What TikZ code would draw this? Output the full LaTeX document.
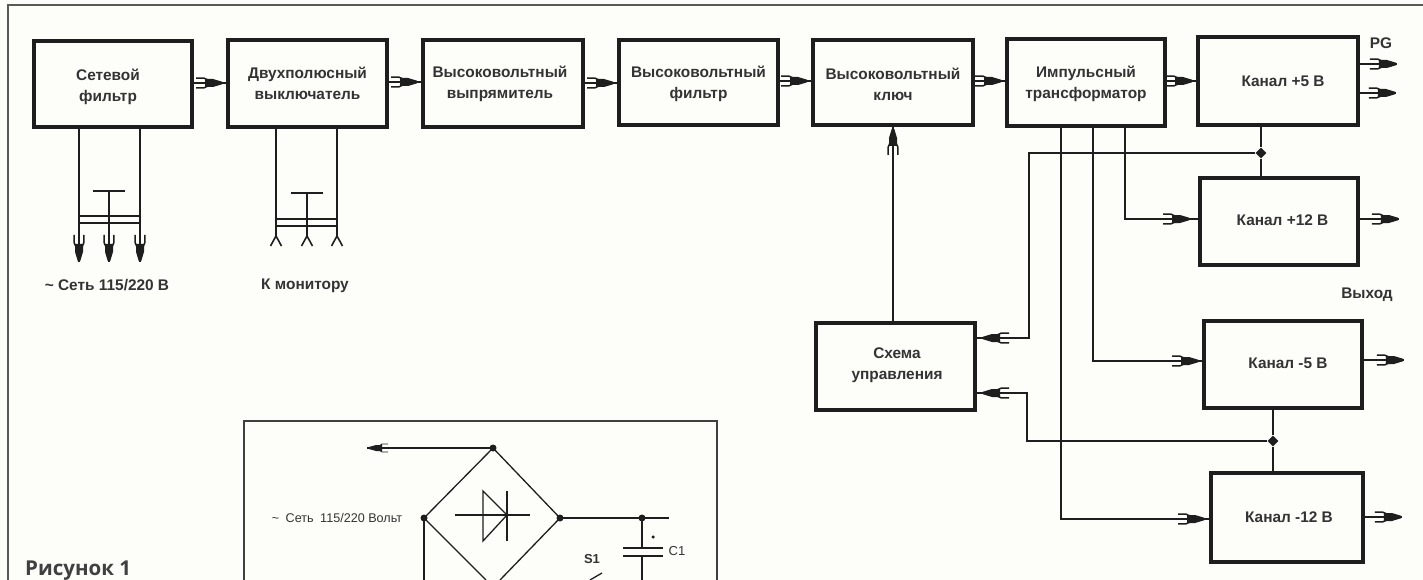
\documentclass[tikz,border=0pt]{standalone}
\usepackage{fontspec}
\setmainfont{Liberation Sans}
\newfontfamily\captionfnt{Open Sans}
\usetikzlibrary{shapes.geometric,decorations.markings}
\definecolor{ink}{HTML}{1E1E1E}
\definecolor{labelink}{HTML}{333333}
\definecolor{paper}{HTML}{FDFDFA}
\newcommand{\plugshape}{%
  \fill[ink] (-18,-4) -- (-10,-4) -- (-1,-1.3) -- (0,0) -- (-1,1.3) -- (-10,4) -- (-18,4) -- cycle;
  \draw[ink,line width=1.5pt] (-27,4.8) -- (-19,4.8) -- (-15,3);
  \draw[ink,line width=1.5pt] (-27,-4.8) -- (-19,-4.8) -- (-15,-3);
}
\tikzset{
  blockbox/.style={draw=ink,line width=3.2pt,fill=paper,inner sep=0pt,outer sep=0pt,anchor=north west},
  blocktext/.style={align=center,text=labelink,inner sep=0pt,font=\fontsize{15.4}{21}\selectfont\bfseries},
  wire/.style={draw=ink,line width=1.9pt},
  thinwire/.style={draw=ink,line width=1.3pt},
  tbar/.style={draw=ink,line width=2.5pt},
  plugged/.style={wire,postaction={decorate},decoration={markings,mark=at position #1 with {\plugshape}}},
  lbl/.style={text=labelink,font=\fontsize{15.4}{18}\selectfont\bfseries,inner sep=0pt},
  junction/.style={diamond,fill=ink,inner sep=0pt,minimum size=11pt},
  dotmark/.style={circle,fill=ink,inner sep=0pt,minimum size=7pt},
  frameline/.style={draw=#1,line width=2pt},
}
\begin{document}
\begin{tikzpicture}[x=1pt,y=-1pt]
\useasboundingbox (0,0) rectangle (1423,580);
\fill[paper] (0,0) rectangle (1423,580);
% outer frame
\coordinate (fa) at (8,580); \coordinate (fb) at (8,5); \coordinate (fc) at (1423,5);
\draw[frameline=black!65] (fa) -- (fb) -- (fc);
% blocks
\node[blockbox,minimum width=158pt,minimum height=86pt,label={[blocktext,xshift=-5pt,yshift=-3pt]center:Сетевой\\фильтр}] (b1) at (34,41) {};
\node[blockbox,minimum width=159pt,minimum height=87pt,label={[blocktext]center:Двухполюсный\\выключатель}] (b2) at (228,40) {};
\node[blockbox,minimum width=160pt,minimum height=87pt,label={[blocktext,xshift=-3pt]center:Высоковольтный\\выпрямитель}] (b3) at (423,40) {};
\node[blockbox,minimum width=159pt,minimum height=85pt,label={[blocktext,yshift=-1pt]center:Высоковольтный\\фильтр}] (b4) at (619,40) {};
\node[blockbox,minimum width=160pt,minimum height=85pt,label={[blocktext,yshift=-2pt]center:Высоковольтный\\ключ}] (b5) at (813,40) {};
\node[blockbox,minimum width=158pt,minimum height=87pt,label={[blocktext,yshift=-1pt]center:Импульсный\\трансформатор}] (b6) at (1007,39) {};
\node[blockbox,minimum width=160pt,minimum height=88pt,label={[blocktext,xshift=5pt]center:Канал +5 В}] (b7) at (1198,37) {};
\node[blockbox,minimum width=158pt,minimum height=87pt,label={[blocktext,xshift=3.5pt,yshift=1pt]center:Канал +12 В}] (b8) at (1200,178) {};
\node[blockbox,minimum width=159pt,minimum height=87pt,label={[blocktext,xshift=1.5pt,yshift=1pt]center:Схема\\управления}] (b9) at (816,323) {};
\node[blockbox,minimum width=158pt,minimum height=87pt,label={[blocktext,xshift=5pt,yshift=1pt]center:Канал -5 В}] (b10) at (1204,321) {};
\node[blockbox,minimum width=152pt,minimum height=89pt,label={[blocktext,xshift=2pt]center:Канал -12 В}] (b11) at (1211,473) {};
% chain
\path[plugged=-5pt] (b1.east |- 0,83) -- (b2.west |- 0,83);
\path[plugged=-5pt] (b2.east |- 0,82) -- (b3.west |- 0,82);
\path[plugged=-5pt] (b3.east |- 0,83) -- (b4.west |- 0,83);
\path[plugged=-5pt] (b4.east |- 0,81) -- (b5.west |- 0,81);
\path[plugged=-5pt] (b5.east |- 0,81) -- (b6.west |- 0,81);
\path[plugged=-5pt] (b6.east |- 0,81) -- (b7.west |- 0,81);
\path[plugged=-3pt] (b9.north -| 893,0) -- (b5.south -| 893,0);
% power lines
\coordinate (n1) at (79,262); \coordinate (n2) at (109,262); \coordinate (n3) at (140,262);
\coordinate (m1) at (276,246); \coordinate (m2) at (307,246); \coordinate (m3) at (337,246);
\coordinate (tb1) at (93,191); \coordinate (tb2) at (125,191); \coordinate (ts) at (109,191);
\coordinate (tc1) at (291,193); \coordinate (tc2) at (323,193); \coordinate (tcs) at (307,193);
\path[plugged=-0.1pt] (b1.south -| n1) -- (n1);
\path[plugged=-0.1pt] (b1.south -| n3) -- (n3);
\path[plugged=-0.1pt] (ts) -- (n2);
\draw[tbar] (tb1) -- (tb2);
\draw[thinwire] (n1 |- 0,216) -- (n3 |- 0,216);
\draw[thinwire] (n1 |- 0,223) -- (n3 |- 0,223);
\draw[wire] (b2.south -| m1) -- (m1 |- 0,236);
\draw[wire] (b2.south -| m3) -- (m3 |- 0,236);
\draw[wire] (tcs) -- (m2 |- 0,236);
\draw[tbar] (tc1) -- (tc2);
\draw[thinwire] (m1 |- 0,219) -- (m3 |- 0,219);
\draw[thinwire] (m1 |- 0,226) -- (m3 |- 0,226);
\foreach \n in {m1,m2,m3} {
  \draw[wire,line width=1.6pt] ([xshift=-5.5pt]\n) -- ([yshift=10pt]\n) -- ([xshift=5.5pt]\n);
}
\node[lbl] (mains) at (107,285) {\textasciitilde{} Сеть 115/220 В};
\node[lbl] (mon) at (305,286) {К монитору};
% transformer outputs
\node[junction] (j1) at (1261,153) {};
\node[junction] (j2) at (1273,441) {};
\draw[wire] (b7.south -| j1) -- (j1) -- (b8.north -| j1);
\draw[wire] (b10.south -| j2) -- (j2) -- (b11.north -| j2);
\path[plugged=-10pt] (b6.south -| 1125,0) -- (1125,219) -- (b8.west |- 0,219);
\path[plugged=-5pt] (b6.south -| 1093,0) -- (1093,361) -- (b10.west |- 0,361);
\path[plugged=-6pt] (b6.south -| 1061,0) -- (1061,519) -- (b11.west |- 0,519);
\path[plugged=-7pt] (j1) -- (1029,153) -- (1029,338) -- (b9.east |- 0,338);
\path[plugged=-7pt] (j2) -- (1027,441) -- (1027,393) -- (b9.east |- 0,393);
% outputs
\coordinate (o1) at (1397,64); \coordinate (o2) at (1396,93); \coordinate (o3) at (1399,219);
\coordinate (o4) at (1404,360); \coordinate (o5) at (1402,517);
\path[plugged=-0.1pt] (b7.east |- o1) -- (o1);
\path[plugged=-0.1pt] (b7.east |- o2) -- (o2);
\path[plugged=-0.1pt] (b8.east |- o3) -- (o3);
\path[plugged=-0.1pt] (b10.east |- o4) -- (o4);
\path[plugged=-0.1pt] (b11.east |- o5) -- (o5);
\node[lbl] (pg) at (1381,43) {PG};
\node[lbl] (out) at (1367,295) {Выход};
% inset
\coordinate (ia) at (244,580); \coordinate (ib) at (244,421); \coordinate (ic) at (717,421); \coordinate (id) at (717,580);
\draw[frameline=black!75] (ia) -- (ib) -- (ic) -- (id);
\coordinate (dt) at (493,448); \coordinate (dl) at (424,518); \coordinate (dr) at (560,518);
\coordinate (dbl) at (486,580); \coordinate (dbr) at (500,580); \coordinate (la) at (424,580);
\coordinate (ae) at (367,448);
\draw[thinwire] (dbl) -- (dl) -- (dt) -- (dr) -- (dbr);
\draw[thinwire] (dl) -- (la);
\path[thinwire,postaction={decorate},decoration={markings,mark=at position -0.1pt with {%
  \fill[ink] (-15,-3) -- (-9,-3) -- (-1,-.8) -- (0,0) -- (-1,.8) -- (-9,3) -- (-15,3) -- cycle;
  \draw[ink,line width=.9pt] (-21,4) -- (-15,4) -- (-12,2); \draw[ink,line width=.9pt] (-21,-4) -- (-15,-4) -- (-12,-2);}}] (dt) -- (ae);
\node[dotmark] at (dt) {};
\node[dotmark] at (dl) {};
\node[dotmark] at (dr) {};
\coordinate (de) at (669,518); \coordinate (dj) at (642,518);
\draw[thinwire] (dr) -- (de);
\node[dotmark] at (dj) {};
\draw[thinwire] (455,515) -- (530,515);
\draw[thinwire] (483,491) -- (507,515) -- (483,541) -- cycle;
\draw[thinwire] (507,491) -- (507,541);
\draw[thinwire] (dj) -- (642,548);
\draw[wire] (623,548) -- (663,548);
\draw[wire] (623,556) -- (663,556);
\draw[thinwire] (642,556) -- (642,580);
\draw[thinwire] (590,580) -- (602,573);
\node[circle,fill=ink,inner sep=0pt,minimum size=3.5pt] (plus) at (653,537) {};
\node[text=labelink,font=\fontsize{12.6}{14}\selectfont,inner sep=0pt] (acin) at (337,518) {\textasciitilde{}\hspace{3pt} Сеть\hspace{3pt} 115/220 Вольт};
\node[text=labelink,font=\fontsize{13}{15}\selectfont\bfseries,inner sep=0pt] (s1) at (592,559) {S1};
\node[text=labelink,font=\fontsize{13}{15}\selectfont,inner sep=0pt] (c1) at (677,551) {C1};
% caption
\node[text=black!75,font=\captionfnt\fontsize{20.5}{24}\selectfont\bfseries,inner sep=0pt,anchor=base west] (cap) at (25,575) {Рисунок 1};
\end{tikzpicture}
\end{document}
